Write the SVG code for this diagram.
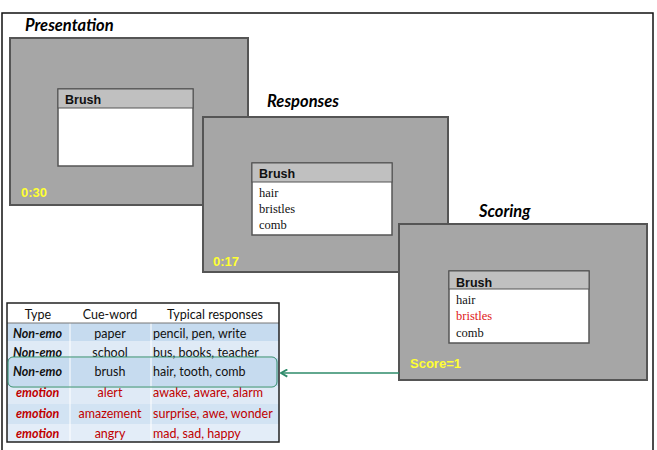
<svg xmlns="http://www.w3.org/2000/svg" width="657" height="450" viewBox="0 0 657 450">
<defs>
<style>
.panel{fill:#a6a6a6;stroke:#555;stroke-width:2}
.box{fill:#fff;stroke:#555;stroke-width:1.5}
.hdr{fill:#c0c0c0;stroke:#555;stroke-width:1}
.ttl{font-family:Lato,"Open Sans",sans-serif;font-weight:bold;font-style:italic;font-size:16.5px;fill:#000}
.bt{font-family:"Liberation Sans",Arial,sans-serif;font-weight:bold;font-size:12.5px;fill:#111}
.rs{font-family:"Liberation Serif","Times New Roman",serif;font-size:12.5px;fill:#111}
.tm{font-family:"Liberation Sans",Arial,sans-serif;font-weight:bold;font-size:13px;fill:#ffff33}
.tb{font-family:Lato,"Open Sans",sans-serif;font-size:12.5px;fill:#111}
.tbi{font-family:Lato,"Open Sans",sans-serif;font-size:12.5px;font-weight:bold;font-style:italic;fill:#111}
.red{fill:#c00000}
</style>
<marker id="ah" viewBox="0 0 10 10" refX="9" refY="5" markerWidth="9" markerHeight="9" orient="auto" markerUnits="userSpaceOnUse">
<path d="M2,1 L9,5 L2,9" fill="none" stroke="#2e8b6a" stroke-width="2"/>
</marker>
</defs>
<rect x="0" y="0" width="657" height="450" fill="#fff"/>
<rect x="2" y="13" width="651" height="445" fill="none" stroke="#111" stroke-width="1.5"/>

<g id="presentation">
<text class="ttl" x="25" y="31">Presentation</text>
<rect class="panel" x="10" y="38" width="238" height="167"/>
<rect class="box" x="58" y="89" width="135" height="77"/>
<rect class="hdr" x="58" y="89" width="135" height="19"/>
<text class="bt" x="65" y="104">Brush</text>
<text class="tm" x="21" y="197">0:30</text>
</g>

<g id="responses">
<text class="ttl" x="267" y="107">Responses</text>
<rect class="panel" x="203" y="117" width="245" height="155"/>
<rect class="box" x="252" y="163" width="140" height="72"/>
<rect class="hdr" x="252" y="163" width="140" height="19"/>
<text class="bt" x="259" y="178">Brush</text>
<text class="rs" x="259" y="197">hair</text>
<text class="rs" x="259" y="213">bristles</text>
<text class="rs" x="259" y="229">comb</text>
<text class="tm" x="213" y="266">0:17</text>
</g>

<g id="scoring">
<text class="ttl" x="479" y="217">Scoring</text>
<rect class="panel" x="399" y="224" width="248" height="156"/>
<rect class="box" x="449" y="271" width="140" height="72"/>
<rect class="hdr" x="449" y="271" width="140" height="18"/>
<text class="bt" x="456" y="287">Brush</text>
<text class="rs" x="456" y="304">hair</text>
<text class="rs" x="456" y="320" style="fill:#e02020">bristles</text>
<text class="rs" x="456" y="337">comb</text>
<text class="tm" x="410" y="368">Score=1</text>
</g>

<g id="table">
<rect x="7" y="303" width="272" height="139" fill="#fff"/>
<rect x="7" y="323" width="272" height="18" fill="#c6dbef"/>
<rect x="7" y="341" width="272" height="17" fill="#dfeaf6"/>
<rect x="7" y="358" width="272" height="28" fill="#c6dbef"/>
<rect x="7" y="386" width="272" height="18" fill="#dfeaf6"/>
<rect x="7" y="404" width="272" height="20" fill="#d2e3f3"/>
<rect x="7" y="424" width="272" height="18" fill="#e3edf8"/>
<line x1="70" y1="323" x2="70" y2="442" stroke="#fff" stroke-width="1"/>
<line x1="151" y1="323" x2="151" y2="442" stroke="#fff" stroke-width="1"/>
<line x1="7" y1="323" x2="279" y2="323" stroke="#777" stroke-width="1"/>
<rect x="7" y="303" width="272" height="139" fill="none" stroke="#222" stroke-width="1.5"/>
<text class="tb" x="38" y="319" text-anchor="middle">Type</text>
<text class="tb" x="110" y="319" text-anchor="middle">Cue-word</text>
<text class="tb" x="215" y="319" text-anchor="middle">Typical responses</text>
<text class="tbi" x="13" y="338">Non-emo</text>
<text class="tb" x="110" y="338" text-anchor="middle">paper</text>
<text class="tb" x="153" y="338">pencil, pen, write</text>
<text class="tbi" x="13" y="357">Non-emo</text>
<text class="tb" x="110" y="357" text-anchor="middle">school</text>
<text class="tb" x="153" y="357">bus, books, teacher</text>
<text class="tbi" x="13" y="376">Non-emo</text>
<text class="tb" x="110" y="376" text-anchor="middle">brush</text>
<text class="tb" x="153" y="376">hair, tooth, comb</text>
<text class="tbi red" x="16" y="397">emotion</text>
<text class="tb red" x="110" y="397" text-anchor="middle">alert</text>
<text class="tb red" x="153" y="397">awake, aware, alarm</text>
<text class="tbi red" x="16" y="418">emotion</text>
<text class="tb red" x="110" y="418" text-anchor="middle">amazement</text>
<text class="tb red" x="153" y="418">surprise, awe, wonder</text>
<text class="tbi red" x="16" y="438">emotion</text>
<text class="tb red" x="110" y="438" text-anchor="middle">angry</text>
<text class="tb red" x="153" y="438">mad, sad, happy</text>
<rect x="8" y="357" width="269" height="30" rx="5" fill="none" stroke="#2e8b6a" stroke-width="1"/>
</g>

<g id="connectors">
<line x1="399" y1="373" x2="281" y2="373" stroke="#2e8b6a" stroke-width="1.5" marker-end="url(#ah)"/>
</g>
</svg>
